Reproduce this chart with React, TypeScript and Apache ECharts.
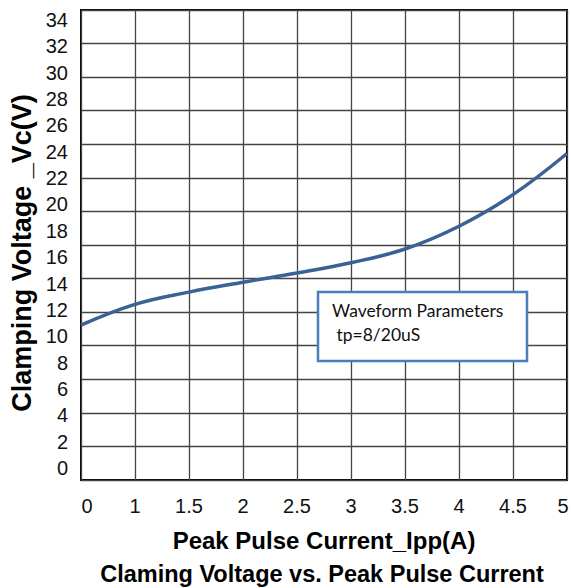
import React, { useEffect, useRef } from "react";
import * as echarts from "echarts";

const X_LABELS = ["0", "1", "1.5", "2", "2.5", "3", "3.5", "4", "4.5", "5"];
const VC_VALUES = [10.85, 12.42, 13.35, 14.1, 14.8, 15.58, 16.62, 18.35, 20.75, 23.87];
const Y_TICK_LABELS = [0, 2, 4, 6, 8, 10, 12, 14, 16, 18, 20, 22, 24, 26, 28, 30, 32, 34];
const TITLE = "Claming Voltage vs. Peak Pulse Current";
const X_NAME = "Peak Pulse Current_Ipp(A)";
const Y_NAME = "Clamping Voltage _Vc(V)";
const NOTE_LINES = ["Waveform Parameters", " tp=8/20uS"];

export default function App() {
  const ref = useRef<HTMLDivElement>(null);
  useEffect(() => {
    document.body.style.margin = "0";
    const chart = echarts.init(ref.current!, null, { renderer: "svg" });
    const lab = { fontFamily: "Liberation Sans, Arial", fontSize: 20, color: "#111" };
    chart.setOption({
      animation: false,
      backgroundColor: "#fff",
      grid: {
        left: 81,
        right: 4,
        top: 10,
        bottom: 108,
        show: true,
        borderColor: "#000",
        borderWidth: 2,
        containLabel: false,
        outerBoundsMode: "none",
      },
      xAxis: {
        type: "category",
        data: X_LABELS,
        boundaryGap: false,
        name: X_NAME,
        nameLocation: "middle",
        nameGap: 48,
        nameTextStyle: { fontFamily: "Liberation Sans, Arial", fontWeight: "bold", fontSize: 24, color: "#000" },
        axisLine: { show: false },
        axisTick: { show: false },
        axisLabel: {
          ...lab,
          margin: 16,
          interval: 0,
          formatter: (v: string, i: number) =>
            i === 0 ? "{a|" + v + "}" : i === X_LABELS.length - 1 ? "{b|" + v + "}" : v,
          rich: {
            a: { ...lab, padding: [0, 0, 0, 12] },
            b: { ...lab, padding: [0, 8, 0, 0] },
          },
        },
        splitLine: { show: true, lineStyle: { color: "#444", width: 1.3 } },
      },
      yAxis: [
        {
          type: "value",
          min: -0.91,
          max: 34.76,
          axisLine: { show: false },
          axisTick: { show: false },
          splitLine: { show: false },
          axisLabel: {
            customValues: Y_TICK_LABELS,
            ...lab,
            margin: 13,
          },
        },
        {
          type: "value",
          min: 0,
          max: 14,
          interval: 1,
          position: "right",
          axisLine: { show: false },
          axisTick: { show: false },
          axisLabel: { show: false },
          splitLine: { show: true, lineStyle: { color: "#444", width: 1.3 } },
        },
      ],
      series: [
        {
          type: "line",
          data: VC_VALUES,
          yAxisIndex: 0,
          smooth: 0.4,
          showSymbol: false,
          lineStyle: { color: "#3a6295", width: 3.5 },
          z: 5,
        },
      ],
      graphic: [
        {
          type: "text",
          x: 22,
          y: 253,
          rotation: Math.PI / 2,
          style: {
            text: Y_NAME,
            fontFamily: "Liberation Sans, Arial",
            fontWeight: "bold",
            fontSize: 27,
            fill: "#000",
            align: "center",
            verticalAlign: "middle",
          },
        },
        {
          type: "text",
          x: 322,
          y: 574,
          style: {
            text: TITLE,
            fontFamily: "Liberation Sans, Arial",
            fontWeight: "bold",
            fontSize: 23.5,
            fill: "#000",
            align: "center",
            verticalAlign: "middle",
          },
        },
        {
          type: "rect",
          shape: { x: 318, y: 292, width: 209, height: 69 },
          style: { fill: "#fff", stroke: "#4a7ebb", lineWidth: 2.5 },
          z: 10,
        },
        {
          type: "text",
          x: 332,
          y: 310,
          z: 11,
          style: {
            text: NOTE_LINES[0],
            fontFamily: "Lato",
            fontSize: 17.5,
            fill: "#111",
            align: "left",
            verticalAlign: "middle",
          },
        },
        {
          type: "text",
          x: 332,
          y: 334,
          z: 11,
          style: {
            text: NOTE_LINES[1],
            fontFamily: "Lato",
            fontSize: 17.5,
            fill: "#111",
            align: "left",
            verticalAlign: "middle",
          },
        },
      ],
    });
    return () => chart.dispose();
  }, []);
  return <div ref={ref} style={{ width: 571, height: 588 }} />;
}
